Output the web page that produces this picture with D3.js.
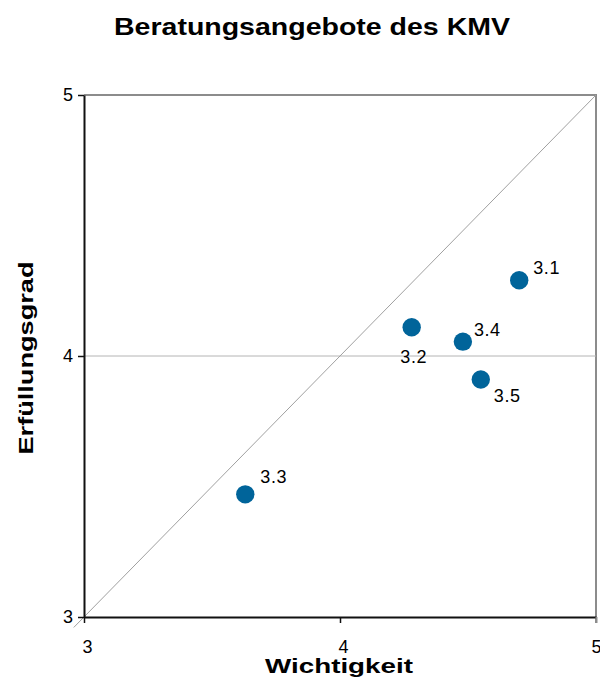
<!DOCTYPE html>
<html>
<head>
<meta charset="utf-8">
<script src="https://cdn.jsdelivr.net/npm/d3@7"></script>
<style>
  html, body { margin: 0; padding: 0; background: #fff; }
  svg { display: block; font-family: "Liberation Sans", Arial, sans-serif; }
</style>
</head>
<body>
<svg id="chart" width="600" height="679"></svg>
<script>
// Survey items: importance (Wichtigkeit) vs. fulfilment (Erfüllungsgrad)
const labels = ["3.1", "3.2", "3.3", "3.4", "3.5"];
const wichtigkeit = [4.70, 4.28, 3.63, 4.48, 4.55];
const erfuellung = [4.29, 4.11, 3.47, 4.055, 3.91];
const tickValues = [3, 4, 5];
const diagonal = [2.96, 5];

const svg = d3.select("#chart");
const plotLeft = 84, plotRight = 596, plotTop = 95, plotBottom = 617;

const x = d3.scaleLinear().domain([3, 5]).range([plotLeft, plotRight]);
const y = d3.scaleLinear().domain([3, 5]).range([plotBottom, plotTop]);

// Title
svg.append("text")
  .attr("x", 312).attr("y", 35)
  .attr("text-anchor", "middle")
  .attr("font-size", 23.5).attr("font-weight", "bold")
  .attr("textLength", 396).attr("lengthAdjust", "spacingAndGlyphs")
  .text("Beratungsangebote des KMV");

// Frame: top and right edges in grey
svg.append("path")
  .attr("d", `M${plotLeft},${plotTop}H${plotRight}V${plotBottom + 6}`)
  .attr("fill", "none").attr("stroke", "#8c8c8c").attr("stroke-width", 2);

// Horizontal gridline at 4
svg.append("line")
  .attr("x1", plotLeft).attr("x2", plotRight)
  .attr("y1", y(4)).attr("y2", y(4))
  .attr("stroke", "#b4b4b4").attr("stroke-width", 1);

// Diagonal reference line (equal importance and fulfilment)
svg.append("line")
  .attr("x1", x(diagonal[0])).attr("y1", y(diagonal[0]))
  .attr("x2", x(diagonal[1])).attr("y2", y(diagonal[1]))
  .attr("stroke", "#a0a0a0").attr("stroke-width", 1);

// Axes
const xAxis = d3.axisBottom(x).tickValues(tickValues).tickFormat(d3.format("d"))
  .tickSize(6).tickSizeOuter(0).tickPadding(17);
const yAxis = d3.axisLeft(y).tickValues(tickValues).tickFormat(d3.format("d"))
  .tickSize(6).tickSizeOuter(0).tickPadding(5);

const gx = svg.append("g").attr("transform", `translate(0,${plotBottom})`).call(xAxis);
const gy = svg.append("g").attr("transform", `translate(${plotLeft},0)`).call(yAxis);

[gx, gy].forEach(g => {
  g.select(".domain").attr("stroke", "#111").attr("stroke-width", 2);
  g.selectAll(".tick line").attr("stroke", "#111").attr("stroke-width", 1.5);
  g.selectAll(".tick text").attr("font-size", 18).attr("fill", "#000")
    .attr("font-family", "'Liberation Sans', Arial, sans-serif");
});
gx.selectAll(".tick").filter(d => d === 5).select("line").attr("stroke", "#8c8c8c").attr("stroke-width", 2);
gx.selectAll(".tick text").attr("dx", d => d === 5 ? 0 : 3);

// Axis titles
svg.append("text")
  .attr("x", 339).attr("y", 673)
  .attr("text-anchor", "middle")
  .attr("font-size", 21).attr("font-weight", "bold")
  .attr("textLength", 148).attr("lengthAdjust", "spacingAndGlyphs")
  .text("Wichtigkeit");

svg.append("text")
  .attr("transform", `translate(33,${358}) rotate(-90)`)
  .attr("text-anchor", "middle")
  .attr("font-size", 21).attr("font-weight", "bold")
  .attr("textLength", 193).attr("lengthAdjust", "spacingAndGlyphs")
  .text("Erfüllungsgrad");

// Points
const data = labels.map((l, i) => ({ label: l, w: wichtigkeit[i], e: erfuellung[i] }));

svg.append("g").selectAll("circle")
  .data(data).join("circle")
  .attr("cx", d => x(d.w)).attr("cy", d => y(d.e))
  .attr("r", 9.2)
  .attr("fill", "#00649a");

// Point labels, each placed around its marker
const offsets = {
  "3.1": [14, -6, "start"],
  "3.2": [2, 36, "middle"],
  "3.3": [15, -11, "start"],
  "3.4": [11, -6, "start"],
  "3.5": [13, 23, "start"]
};
svg.append("g").selectAll("text")
  .data(data).join("text")
  .attr("x", d => x(d.w) + offsets[d.label][0])
  .attr("y", d => y(d.e) + offsets[d.label][1])
  .attr("text-anchor", d => offsets[d.label][2])
  .attr("font-size", 18)
  .attr("letter-spacing", 0.6)
  .text(d => d.label);
</script>
</body>
</html>
